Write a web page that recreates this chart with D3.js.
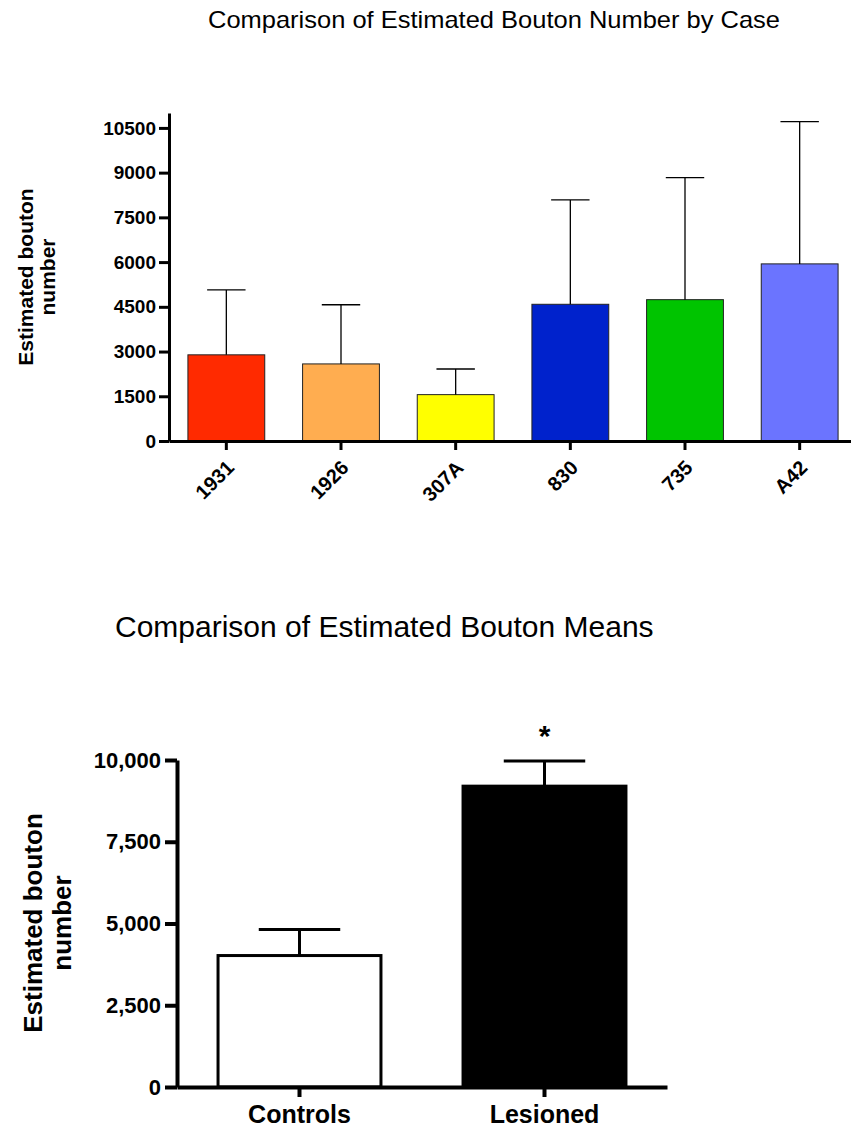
<!DOCTYPE html>
<html>
<head>
<meta charset="utf-8">
<script src="https://cdn.jsdelivr.net/npm/d3@7"></script>
<style>
  body { margin: 0; background: #fff; }
  svg text { font-family: "Liberation Sans", Arial, Helvetica, sans-serif; fill: #000; }
</style>
</head>
<body>
<svg id="chart" width="851" height="1129"></svg>
<script>
// ---- top chart data (per case) ----
const cases = ['1931', '1926', '307A', '830', '735', 'A42'];
const caseMeans = [2890, 2585, 1555, 4585, 4740, 5940];
const caseErrTop = [5065, 4570, 2415, 8085, 8835, 10710];
const caseColors = ['#ff2a00', '#ffad50', '#ffff00', '#0022cc', '#00c400', '#6b74ff'];
const caseTicks = [0, 1500, 3000, 4500, 6000, 7500, 9000, 10500];

// ---- bottom chart data (group means) ----
const groups = ['Controls', 'Lesioned'];
const groupMeans = [4020, 9200];
const groupErrTop = [4820, 9970];
const groupFills = ['#ffffff', '#000000'];
const groupTicks = [0, 2500, 5000, 7500, 10000];

let svg = d3.select('#chart');

// ================= top chart =================
let topG = svg.append('g');

let x1 = d3.scaleBand()
  .domain(cases)
  .range([169, 857])
  .paddingInner(0.33)
  .paddingOuter(0.165);

let y1 = d3.scaleLinear()
  .domain([0, 11000])
  .range([441, 113]);

topG.append('text')
  .attr('x', 208)
  .attr('y', 28)
  .attr('textLength', 572)
  .attr('lengthAdjust', 'spacingAndGlyphs')
  .style('font-size', '24px')
  .text('Comparison of Estimated Bouton Number by Case');

// bars
topG.selectAll('.casebar')
  .data(cases)
  .enter().append('rect')
  .attr('class', 'casebar')
  .attr('x', d => x1(d))
  .attr('y', (d, i) => y1(caseMeans[i]))
  .attr('width', x1.bandwidth())
  .attr('height', (d, i) => y1(0) - y1(caseMeans[i]))
  .attr('fill', (d, i) => caseColors[i])
  .attr('stroke', '#222')
  .attr('stroke-width', 1);

// error bars (upper only)
let errG = topG.selectAll('.caseerr')
  .data(cases)
  .enter().append('g')
  .attr('class', 'caseerr')
  .attr('stroke', '#000')
  .attr('stroke-width', 1.3);

errG.append('line')
  .attr('x1', d => x1(d) + x1.bandwidth() / 2)
  .attr('x2', d => x1(d) + x1.bandwidth() / 2)
  .attr('y1', (d, i) => y1(caseMeans[i]))
  .attr('y2', (d, i) => y1(caseErrTop[i]));

errG.append('line')
  .attr('x1', d => x1(d) + x1.bandwidth() / 4)
  .attr('x2', d => x1(d) + x1.bandwidth() * 3 / 4)
  .attr('y1', (d, i) => y1(caseErrTop[i]))
  .attr('y2', (d, i) => y1(caseErrTop[i]));

// y axis
let yAxis1 = topG.append('g')
  .attr('transform', 'translate(169,0)')
  .call(d3.axisLeft(y1).tickValues(caseTicks).tickSize(10).tickSizeOuter(0).tickFormat(d3.format('d')));
yAxis1.select('.domain').attr('stroke-width', 3);
yAxis1.selectAll('.tick line').attr('stroke-width', 3);
yAxis1.selectAll('.tick text')
  .attr('x', -13)
  .style('font-size', '19px')
  .style('font-weight', 'bold');

// x axis
let xAxis1 = topG.append('g')
  .attr('transform', 'translate(0,441)')
  .call(d3.axisBottom(x1).tickSize(9).tickSizeOuter(0));
xAxis1.select('.domain').attr('stroke-width', 3);
xAxis1.selectAll('.tick line').attr('stroke-width', 3);
xAxis1.selectAll('.tick text')
  .attr('text-anchor', 'end')
  .attr('transform', 'translate(4,23) rotate(-45)')
  .attr('x', 0)
  .attr('y', 0)
  .attr('dy', '0.35em')
  .style('font-size', '20px')
  .style('font-weight', 'bold');

// y label
let yl1 = topG.append('text')
  .attr('transform', 'translate(33,277) rotate(-90)')
  .attr('text-anchor', 'middle')
  .style('font-size', '21px')
  .style('font-weight', 'bold');
yl1.append('tspan').attr('x', 0).attr('y', 0).text('Estimated bouton');
yl1.append('tspan').attr('x', 0).attr('y', 22).text('number');

// ================= bottom chart =================
let botG = svg.append('g');

let x2 = d3.scaleBand()
  .domain(groups)
  .range([177, 667])
  .paddingInner(0.335)
  .paddingOuter(0.1675);

let y2 = d3.scaleLinear()
  .domain([0, 10000])
  .range([1087, 760]);

botG.append('text')
  .attr('x', 115)
  .attr('y', 637)
  .style('font-size', '30px')
  .text('Comparison of Estimated Bouton Means');

botG.selectAll('.grpbar')
  .data(groups)
  .enter().append('rect')
  .attr('class', 'grpbar')
  .attr('x', d => x2(d))
  .attr('y', (d, i) => y2(groupMeans[i]))
  .attr('width', x2.bandwidth())
  .attr('height', (d, i) => y2(0) - y2(groupMeans[i]))
  .attr('fill', (d, i) => groupFills[i])
  .attr('stroke', '#000')
  .attr('stroke-width', 3);

let errG2 = botG.selectAll('.grperr')
  .data(groups)
  .enter().append('g')
  .attr('class', 'grperr')
  .attr('stroke', '#000')
  .attr('stroke-width', 3);

errG2.append('line')
  .attr('x1', d => x2(d) + x2.bandwidth() / 2)
  .attr('x2', d => x2(d) + x2.bandwidth() / 2)
  .attr('y1', (d, i) => y2(groupMeans[i]))
  .attr('y2', (d, i) => y2(groupErrTop[i]));

errG2.append('line')
  .attr('x1', d => x2(d) + x2.bandwidth() / 4)
  .attr('x2', d => x2(d) + x2.bandwidth() * 3 / 4)
  .attr('y1', (d, i) => y2(groupErrTop[i]))
  .attr('y2', (d, i) => y2(groupErrTop[i]));

// significance star
botG.append('text')
  .attr('x', x2('Lesioned') + x2.bandwidth() / 2)
  .attr('y', y2(groupErrTop[1]) - 15)
  .attr('text-anchor', 'middle')
  .style('font-size', '30px')
  .style('font-weight', 'bold')
  .text('*');

let yAxis2 = botG.append('g')
  .attr('transform', 'translate(177,0)')
  .call(d3.axisLeft(y2).tickValues(groupTicks).tickSize(12).tickSizeOuter(0).tickFormat(d3.format(',')));
yAxis2.select('.domain').attr('stroke-width', 4);
yAxis2.selectAll('.tick line').attr('stroke-width', 4);
yAxis2.selectAll('.tick text')
  .attr('x', -16)
  .style('font-size', '22px')
  .style('font-weight', 'bold');

let xAxis2 = botG.append('g')
  .attr('transform', 'translate(0,1087)')
  .call(d3.axisBottom(x2).tickSize(10).tickSizeOuter(0));
xAxis2.select('.domain').attr('stroke-width', 4);
xAxis2.selectAll('.tick line').attr('stroke-width', 4);
xAxis2.selectAll('.tick text')
  .attr('y', 0)
  .attr('dy', 36)
  .style('font-size', '25px')
  .style('font-weight', 'bold');

let yl2 = botG.append('text')
  .attr('transform', 'translate(42,923) rotate(-90)')
  .attr('text-anchor', 'middle')
  .style('font-size', '26px')
  .style('font-weight', 'bold');
yl2.append('tspan').attr('x', 0).attr('y', 0).text('Estimated bouton');
yl2.append('tspan').attr('x', 0).attr('y', 29).text('number');
</script>
</body>
</html>
